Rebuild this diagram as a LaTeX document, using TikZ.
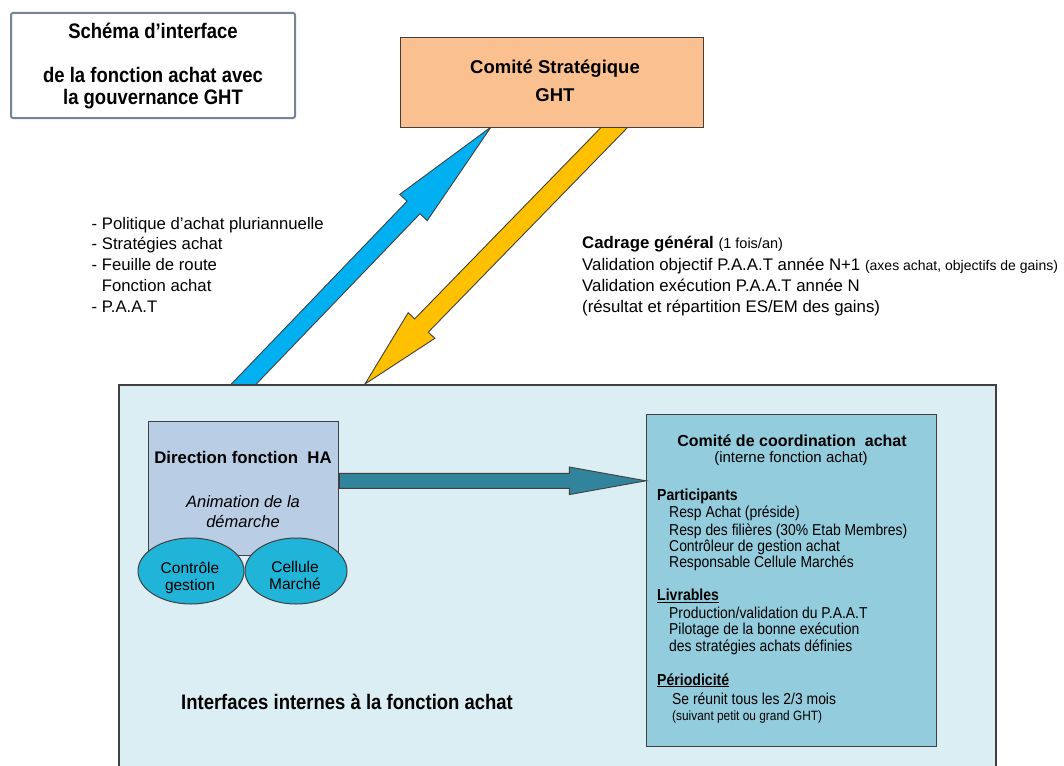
\documentclass[tikz,border=0pt]{standalone}
\usepackage{fontspec}
\setmainfont{Liberation Sans}
\newfontfamily\narrowsans{Liberation Sans}[FakeStretch=0.88]
\usetikzlibrary{calc,shapes.geometric}
\definecolor{peach}{RGB}{250,192,143}
\definecolor{skyarrow}{RGB}{0,176,240}
\definecolor{goldarrow}{RGB}{255,192,0}
\definecolor{paleblue}{RGB}{219,238,244}
\definecolor{coordfill}{RGB}{147,205,221}
\definecolor{dirfill}{RGB}{185,205,229}
\definecolor{cellfill}{RGB}{31,180,216}
\definecolor{tealarrow}{RGB}{49,132,155}
\definecolor{edge}{RGB}{64,64,64}
\definecolor{titleframe}{RGB}{120,132,150}
\newcommand\fsz[1]{\fontsize{#1pt}{#1pt}\selectfont}
\begin{document}
\begin{tikzpicture}[x=1pt,y=-1pt,
  frame/.style={draw=edge,line width=1.3pt,rectangle,inner sep=0pt,anchor=north west},
  lbl/.style={inner sep=0pt,anchor=base west},
  clbl/.style={inner sep=0pt,anchor=base},
  blockarrow/.style={draw=edge,line width=0.9pt,line join=miter},
  cellshape/.style={ellipse,draw=edge,line width=1pt,fill=cellfill,inner sep=0pt,
    minimum width=106pt,minimum height=66pt}
]
\useasboundingbox (0,0) rectangle (1064,765);
\fill[white] (0,0) rectangle (1064,765);

% title frame
\node[frame,draw=titleframe,line width=2pt,rounded corners=2pt,
  minimum width=284pt,minimum height=105pt] (titlebox) at (10,12) {};
\node[clbl,font=\narrowsans\bfseries\fsz{21}] (t1) at (153,39) {Schéma d’interface};
\node[clbl,font=\narrowsans\bfseries\fsz{21}] (t2) at (153,83) {de la fonction achat avec};
\node[clbl,font=\narrowsans\bfseries\fsz{21}] (t3) at (153,104) {la gouvernance GHT};

% block arrows between the two levels
\coordinate (btip) at (491,127);
\coordinate (bB) at (413.5,207.5);
\coordinate (bT) at (230.2,398.2);
\draw[blockarrow,fill=skyarrow]
  ($(bT)!9pt!90:(btip)$) -- ($(bB)!9pt!90:(btip)$) -- ($(bB)!19pt!90:(btip)$) --
  (btip) -- ($(bB)!19pt!-90:(btip)$) -- ($(bB)!9pt!-90:(btip)$) --
  ($(bT)!9pt!-90:(btip)$) -- cycle;

\coordinate (ytip) at (365,384);
\coordinate (yB) at (421.5,325.5);
\coordinate (yT) at (628,113.4);
\draw[blockarrow,fill=goldarrow]
  ($(yT)!9.5pt!90:(ytip)$) -- ($(yB)!9.5pt!90:(ytip)$) -- ($(yB)!18.5pt!90:(ytip)$) --
  (ytip) -- ($(yB)!18.5pt!-90:(ytip)$) -- ($(yB)!9.5pt!-90:(ytip)$) --
  ($(yT)!9.5pt!-90:(ytip)$) -- cycle;

% internal area
\node[frame,fill=paleblue,line width=1.5pt,minimum width=877pt,minimum height=400pt] (inner) at (118,384) {};

% strategic committee
\node[frame,fill=peach,minimum width=303pt,minimum height=90pt] (strat) at (400,37) {};
\node[clbl,font=\bfseries\fsz{18.5}] (s1) at (555,73.3) {Comité Stratégique};
\node[clbl,font=\bfseries\fsz{18.5}] (s2) at (555,101.5) {GHT};

% left list
\node[lbl,font=\fsz{16.7}] (l1) at (91.5,229) {- Politique d’achat pluriannuelle};
\node[lbl,font=\fsz{16.7}] (l2) at (91.5,249.75) {- Stratégies achat};
\node[lbl,font=\fsz{16.7}] (l3) at (91.5,270.5) {- Feuille de route};
\node[lbl,font=\fsz{16.7}] (l4) at (91.5,291.25) {\phantom{- }Fonction achat};
\node[lbl,font=\fsz{16.7}] (l5) at (91.5,312) {- P.A.A.T};

% right list
\node[lbl,font=\fsz{16.8}] (r1) at (582,248) {\textbf{Cadrage général} {\fsz{14.5}(1 fois/an)}};
\node[lbl,font=\fsz{16.8}] (r2) at (582,270) {Validation objectif P.A.A.T année N+1 {\fsz{14}(axes achat, objectifs de gains)}};
\node[lbl,font=\fsz{16.8}] (r3) at (582,291) {Validation exécution P.A.A.T année N};
\node[lbl,font=\fsz{16.8}] (r4) at (582,312) {(résultat et répartition ES/EM des gains)};

% purchasing direction
\node[frame,fill=dirfill,minimum width=190pt,minimum height=134pt] (dir) at (148,421) {};
\node[clbl,font=\bfseries\fsz{16.8}] (d1) at (243,463) {Direction fonction~~HA};
\node[clbl,font=\itshape\fsz{16.5}] (d2) at (243,507) {Animation de la};
\node[clbl,font=\itshape\fsz{16.5}] (d3) at (243,527) {démarche};

\node[cellshape] (ctrlg) at (191,571) {};
\node[cellshape,minimum width=102pt] (cellm) at (296,571) {};
\node[clbl,font=\fsz{15.5}] (c1) at (190,573) {Contrôle};
\node[clbl,font=\fsz{15.5}] (c2) at (190,590) {gestion};
\node[clbl,font=\fsz{15.5}] (m1) at (295,572) {Cellule};
\node[clbl,font=\fsz{15.5}] (m2) at (295,589) {Marché};

% coordination committee
\node[frame,fill=coordfill,minimum width=290pt,minimum height=332pt] (coord) at (646,414) {};
\node[clbl,font=\bfseries\fsz{16}] (k0) at (792,446.7) {Comité de coordination~~achat};
\node[clbl,font=\fsz{15}] (k1) at (791,462) {(interne fonction achat)};
\node[lbl,font=\narrowsans\bfseries\fsz{16}] (p0) at (657,500.7) {Participants};
\node[lbl,font=\narrowsans\fsz{15.8}] (p1) at (669,517.3) {Resp Achat (préside)};
\node[lbl,font=\narrowsans\fsz{15.8}] (p2) at (669,535) {Resp des filières (30\% Etab Membres)};
\node[lbl,font=\narrowsans\fsz{15.8}] (p3) at (669,551.7) {Contrôleur de gestion achat};
\node[lbl,font=\narrowsans\fsz{15.8}] (p4) at (669,567.7) {Responsable Cellule Marchés};
\node[lbl,font=\narrowsans\bfseries\fsz{16}] (v0) at (657,600.7) {\underline{Livrables}};
\node[lbl,font=\narrowsans\fsz{15.8}] (v1) at (669,618.3) {Production/validation du P.A.A.T};
\node[lbl,font=\narrowsans\fsz{15.8}] (v2) at (669,634.3) {Pilotage de la bonne exécution};
\node[lbl,font=\narrowsans\fsz{15.8}] (v3) at (669,651.7) {des stratégies achats définies};
\node[lbl,font=\narrowsans\bfseries\fsz{16}] (q0) at (657,685) {\underline{Périodicité}};
\node[lbl,font=\narrowsans\fsz{15.8}] (q1) at (672,704) {Se réunit tous les 2/3 mois};
\node[lbl,font=\narrowsans\fsz{13.5}] (q2) at (672,720.7) {(suivant petit ou grand GHT)};

% link from the direction to the committee
\coordinate (tT) at ($(dir.north east)+(0,59.8)$);
\coordinate (tTip) at (coord.west |- tT);
\coordinate (tB) at ($(tTip)+(-76.7,0)$);
\draw[blockarrow,fill=tealarrow]
  ($(tT)+(0,-7.5)$) -- ($(tB)+(0,-7.5)$) -- ($(tB)+(0,-13.8)$) -- (tTip) --
  ($(tB)+(0,13.8)$) -- ($(tB)+(0,7.5)$) -- ($(tT)+(0,7.5)$) -- cycle;

\node[lbl,font=\narrowsans\bfseries\fsz{21}] (ifc) at (181,709.3) {Interfaces internes à la fonction achat};
\end{tikzpicture}
\end{document}
